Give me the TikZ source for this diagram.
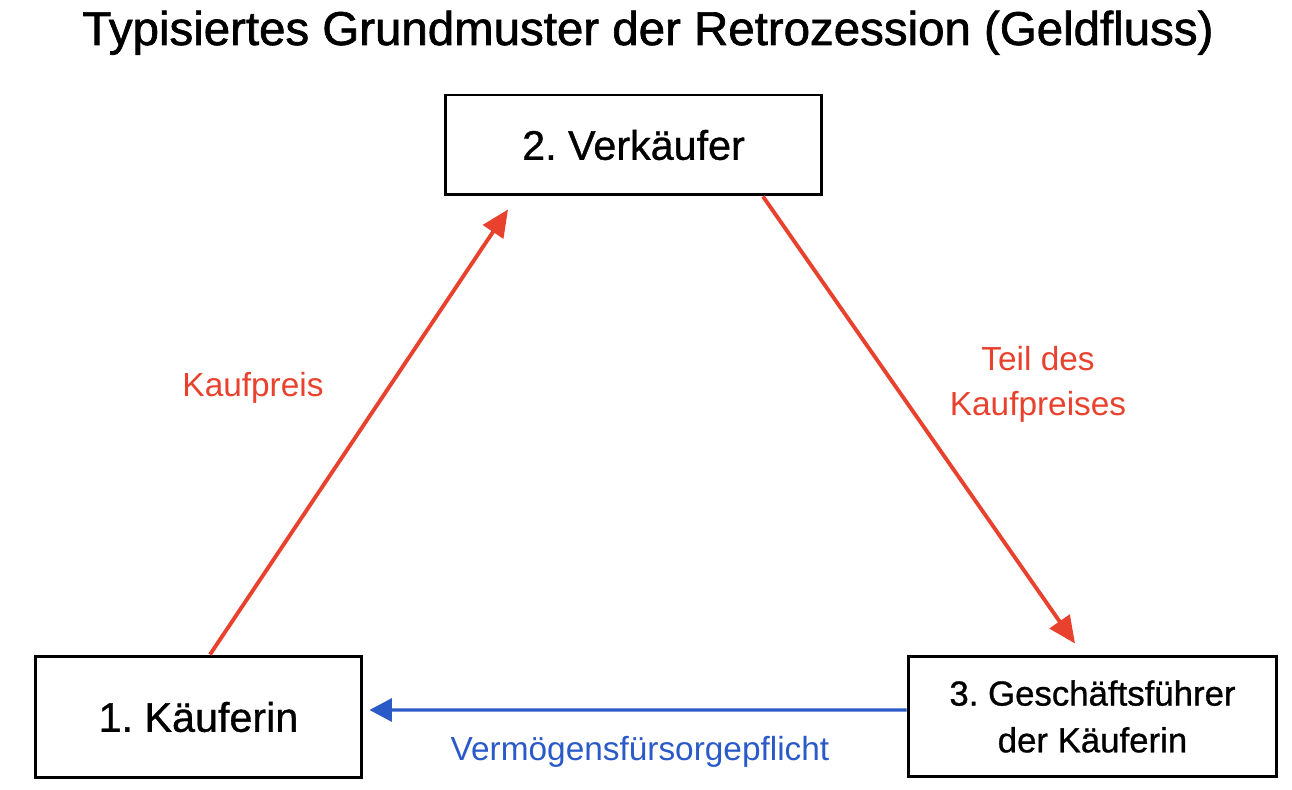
\documentclass[tikz,border=0pt]{standalone}
\usepackage{fontspec}
\setmainfont{Liberation Sans}
\newfontfamily\dickfont[FakeBold=1.4]{Liberation Sans}
\newfontfamily\halbfont[FakeBold=0.8]{Liberation Sans}
\usetikzlibrary{arrows.meta}
\definecolor{geldrot}{RGB}{232,65,45}
\definecolor{pflichtblau}{RGB}{42,90,200}
\tikzset{
  partei/.style={draw, line width=1.7pt, align=center, inner sep=0pt, font=\halbfont\fontsize{23.5}{26.6}\selectfont},
  geldpfeil/.style={geldrot, line width=2.2pt, -{Triangle[length=0.54cm, width=0.48cm]}},
  pflichtpfeil/.style={pflichtblau, line width=1.8pt, -{Triangle[length=0.45cm, width=0.46cm]}},
  beschriftung/.style={align=center, font=\fontsize{19}{25.5}\selectfont}
}
\frenchspacing
\begin{document}
\begin{tikzpicture}[x=0.02cm, y=-0.02cm]
\useasboundingbox (0,0) rectangle (1292,790); % page

\node[anchor=base, font=\dickfont\fontsize{27}{30}\selectfont] (titel) at (648,45) {Typisiertes Grundmuster der Retrozession (Geldfluss)}; % title

\node[partei, minimum width=7.54cm, minimum height=2cm] (verk) at (633.5,145) {2. Verkäufer}; % seller
\node[partei, minimum width=6.54cm, minimum height=2.44cm] (kauf) at (198.5,717) {1. Käuferin}; % buyer
\node[partei, minimum width=7.38cm, minimum height=2.42cm, font=\halbfont\fontsize{19.8}{26.6}\selectfont] (gf) at (1092.5,716.5) {3. Geschäftsführer\\der Käuferin}; % manager

\draw[geldpfeil] ([xshift=0.23cm]kauf.north) -- ([xshift=-2.51cm, yshift=-0.26cm]verk.south); % purchase price
\draw[geldpfeil] ([xshift=2.59cm]verk.south) -- ([xshift=-0.35cm, yshift=0.22cm]gf.north); % part of price
\draw[pflichtpfeil] ([yshift=0.13cm]gf.west) -- ([xshift=0.12cm, yshift=0.14cm]kauf.east); % duty of care

\node[beschriftung, geldrot] (lblpreis) at (253,388) {Kaufpreis}; % label left
\node[beschriftung, geldrot] (lblteil) at (1038,384) {Teil des\\Kaufpreises}; % label right
\node[beschriftung, pflichtblau] (lblpflicht) at (640,752) {Vermögensfürsorgepflicht}; % label bottom

\end{tikzpicture}
\end{document}
